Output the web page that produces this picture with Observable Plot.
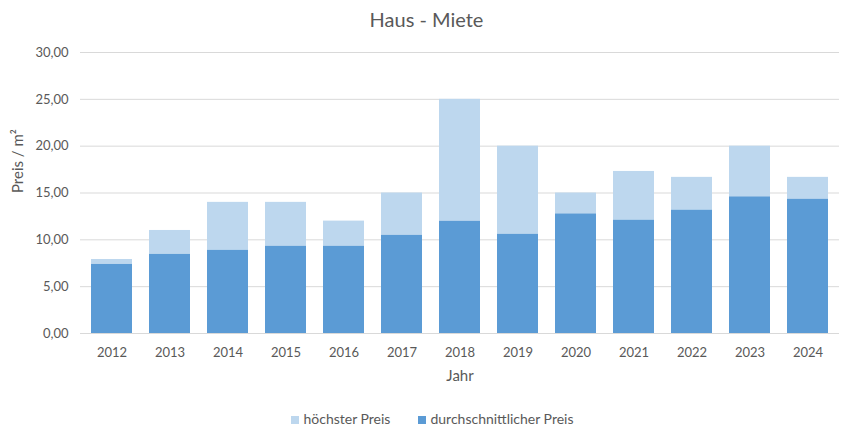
<!DOCTYPE html>
<html>
<head>
<meta charset="utf-8">
<script src="https://cdn.jsdelivr.net/npm/d3@7"></script>
<script src="https://cdn.jsdelivr.net/npm/@observablehq/plot@0.6"></script>
<style>
  html, body { margin: 0; padding: 0; background: #fff; }
  body { width: 853px; height: 437px; font-family: Lato, "Open Sans", sans-serif; color: #595959; overflow: hidden; }
  #title { height: 40px; line-height: 38px; text-align: center; font-size: 20px; color: #595959; }
  #legend { height: 37px; display: flex; justify-content: center; align-items: center; gap: 28px; font-size: 14px; color: #595959; padding-left: 12px; box-sizing: border-box; }
  #legend span.sw { display: inline-block; width: 8px; height: 8px; margin-right: 4px; vertical-align: 0px; }
  svg { display: block; }
</style>
</head>
<body>
<div id="title">Haus - Miete</div>
<div id="chart"></div>
<div id="legend"></div>
<script>
const years = ["2012","2013","2014","2015","2016","2017","2018","2019","2020","2021","2022","2023","2024"];
const hoechsterPreis = [7.9, 11.0, 14.0, 14.0, 12.0, 15.0, 25.0, 20.0, 15.0, 17.3, 16.67, 20.0, 16.67];
const durchschnittPreis = [7.37, 8.44, 8.87, 9.3, 9.3, 10.47, 11.97, 10.58, 12.75, 12.08, 13.15, 14.57, 14.32];
const yTicks = [0, 5, 10, 15, 20, 25, 30];
const seriesNames = ["höchster Preis", "durchschnittlicher Preis"];
const seriesColors = ["#BDD7EE", "#5B9BD5"];

const data = years.map((y, i) => ({year: y, max: hoechsterPreis[i], avg: durchschnittPreis[i]}));
const fmt = d => d.toFixed(2).replace(".", ",");

const chart = Plot.plot({
  width: 853,
  height: 360,
  marginLeft: 80,
  marginRight: 14,
  marginTop: 12,
  marginBottom: 67,
  style: {fontFamily: "Lato, 'Open Sans', sans-serif", fontSize: "13px", color: "#595959", background: "#fff"},
  x: {domain: years, paddingInner: 0.3, paddingOuter: 0.15, label: null},
  y: {domain: [0, 30], label: null},
  marks: [
    Plot.gridY(yTicks, {stroke: "#D9D9D9", strokeOpacity: 1, strokeWidth: 1}),
    Plot.barY(data, {x: "year", y: "max", fill: seriesColors[0]}),
    Plot.barY(data, {x: "year", y: "avg", fill: seriesColors[1]}),
    Plot.ruleY([0], {stroke: "#D9D9D9", strokeWidth: 1}),
    Plot.axisY(yTicks, {tickSize: 0, tickPadding: 12, tickFormat: fmt, label: null, fill: "#595959", fontSize: 13}),
    Plot.axisX({tickSize: 0, tickPadding: 14, label: null, fill: "#595959", fontSize: 13}),
    Plot.text(["Jahr"], {frameAnchor: "bottom", dy: 47, fill: "#595959", fontSize: 15}),
    Plot.text(["Preis / m²"], {frameAnchor: "left", dx: -62, rotate: -90, fill: "#595959", fontSize: 15})
  ]
});
document.getElementById("chart").appendChild(chart);

const legend = document.getElementById("legend");
seriesNames.forEach((n, i) => {
  const item = document.createElement("div");
  item.innerHTML = `<span class="sw" style="background:${seriesColors[i]}"></span>${n}`;
  legend.appendChild(item);
});
</script>
</body>
</html>
